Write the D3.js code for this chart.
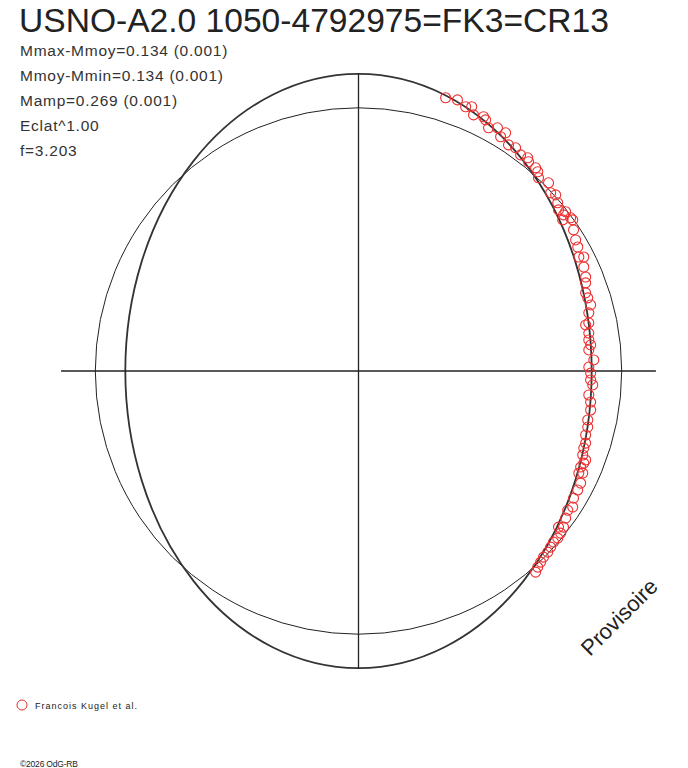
<!DOCTYPE html>
<html>
<head>
<meta charset="utf-8">
<script src="https://cdn.jsdelivr.net/npm/d3@7"></script>
<style>
  body { margin: 0; background: #fff; }
  svg { display: block; }
  text { font-family: "Liberation Sans", Arial, sans-serif; }
</style>
</head>
<body>
<svg id="chart_svg" width="688" height="768"></svg>
<script>
'use strict';

// texts
const title = "USNO-A2.0 1050-4792975=FK3=CR13";
const infoLines = [
  "Mmax-Mmoy=0.134 (0.001)",
  "Mmoy-Mmin=0.134 (0.001)",
  "Mamp=0.269 (0.001)",
  "Eclat^1.00",
  "f=3.203"
];
const observer = "Francois Kugel et al.";
const credit = "\u00a92026 OdG-RB";
const stamp = "Provisoire";

// reference circle (mean) and fitted ellipse, in units of mean radius = 100
const meanRadius = 100;
const fitRx = 88.6;
const fitRy = 112.9;
const axisExtent = 113;

// observations (x, y), same units
const obsX = [33.1, 37.6, 40.7, 43.0, 43.7, 47.5, 48.3, 49.4, 52.8, 54.0,
  55.9, 57.0, 59.7, 61.6, 64.3, 64.6, 67.3, 68.1, 68.4, 72.2,
  73.0, 74.9, 75.7, 76.0, 78.7, 77.9, 77.6, 80.6, 81.4, 81.7,
  82.5, 83.3, 83.7, 85.6, 85.6, 86.3, 86.3, 86.3, 87.1, 88.2,
  87.5, 87.5, 86.3, 87.5, 87.5, 88.2, 87.5, 89.4, 87.5, 88.2,
  88.2, 89.0, 87.5, 88.2, 88.2, 87.1, 87.1, 86.3, 86.3, 85.6,
  85.2, 86.3, 85.6, 84.4, 83.7, 85.2, 84.4, 83.3, 81.7, 81.4,
  79.5, 78.7, 76.0, 77.9, 76.8, 75.7, 74.1, 73.0, 71.9, 70.3,
  69.2, 68.1, 67.3];
const obsY = [103.8, 103.0, 100.4, 100.4, 97.3, 96.6, 95.4, 92.4, 92.4, 89.0,
  90.5, 85.9, 84.8, 82.1, 81.0, 79.5, 77.2, 75.7, 73.4, 71.5,
  67.7, 66.9, 63.9, 61.2, 60.5, 59.3, 57.4, 58.2, 57.4, 53.6,
  49.8, 47.1, 43.3, 43.3, 39.5, 35.7, 33.5, 29.7, 27.8, 25.1,
  22.1, 18.3, 17.5, 14.4, 11.8, 9.9, 8.0, 4.2, 1.5, -0.8,
  -3.4, -5.3, -9.1, -11.8, -14.8, -18.6, -21.3, -24.3, -27.4, -29.3,
  -31.9, -33.8, -35.0, -36.5, -38.8, -38.8, -42.6, -45.2, -48.3, -51.7,
  -52.9, -55.9, -59.3, -59.3, -61.6, -63.5, -65.0, -66.9, -68.8, -70.7,
  -72.6, -74.5, -76.4];

const svg = d3.select("#chart_svg");
const cx = 358.5, cy = 371, pxPerUnit = 2.632;

const x = d3.scaleLinear().domain([-axisExtent, axisExtent])
  .range([cx - axisExtent * pxPerUnit, cx + axisExtent * pxPerUnit]);
const y = d3.scaleLinear().domain([-axisExtent, axisExtent])
  .range([cy + axisExtent * pxPerUnit, cy - axisExtent * pxPerUnit]);
const len = (v) => x(v) - x(0);

const g = svg.append("g");

// mean circle
g.append("circle")
  .attr("cx", x(0)).attr("cy", y(0))
  .attr("r", len(meanRadius))
  .attr("fill", "none")
  .attr("stroke", "#222")
  .attr("stroke-width", 1);

// fitted curve
g.append("ellipse")
  .attr("cx", x(0)).attr("cy", y(0))
  .attr("rx", len(fitRx)).attr("ry", len(fitRy))
  .attr("fill", "none")
  .attr("stroke", "#333")
  .attr("stroke-width", 1.8);

// axes through the centre
g.append("line")
  .attr("x1", x(-axisExtent)).attr("x2", x(axisExtent))
  .attr("y1", y(0)).attr("y2", y(0))
  .attr("stroke", "#222").attr("stroke-width", 1.3);
g.append("line")
  .attr("x1", x(0)).attr("x2", x(0))
  .attr("y1", y(axisExtent)).attr("y2", y(-axisExtent))
  .attr("stroke", "#222").attr("stroke-width", 1.3);

// observations
const obs = obsX.map((d, i) => ({x: d, y: obsY[i]}));
g.selectAll(".obs")
  .data(obs)
  .enter().append("circle")
    .attr("class", "obs")
    .attr("cx", (d) => x(d.x))
    .attr("cy", (d) => y(d.y))
    .attr("r", 5)
    .attr("fill", "none")
    .attr("stroke", "#ee3030")
    .attr("stroke-width", 1.1);

// title and info block
svg.append("text")
  .attr("x", 19).attr("y", 32)
  .attr("fill", "#222")
  .style("font-size", "33.6px")
  .text(title);

svg.selectAll(".info")
  .data(infoLines)
  .enter().append("text")
    .attr("class", "info")
    .attr("x", 20)
    .attr("y", (d, i) => 56 + i * 25)
    .attr("fill", "#333")
    .style("font-size", "15.5px")
    .style("letter-spacing", "0.75px")
    .text((d) => d);

// legend
svg.append("circle")
  .attr("cx", 22).attr("cy", 705).attr("r", 5)
  .attr("fill", "none")
  .attr("stroke", "#e03030")
  .attr("stroke-width", 1);
svg.append("text")
  .attr("x", 35).attr("y", 709)
  .attr("fill", "#222")
  .style("font-size", "9px")
  .style("letter-spacing", "1px")
  .text(observer);

svg.append("text")
  .attr("x", 20).attr("y", 767)
  .attr("fill", "#222")
  .style("font-size", "8.5px")
  .style("letter-spacing", "-0.2px")
  .text(credit);

svg.append("text")
  .attr("transform", "translate(590,657) rotate(-45)")
  .attr("fill", "#222")
  .style("font-size", "22px")
  .text(stamp);
</script>
</body>
</html>
